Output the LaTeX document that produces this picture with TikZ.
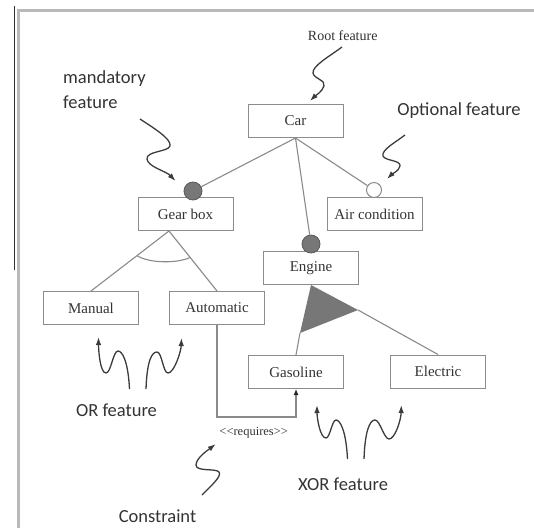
\documentclass[tikz,border=0pt]{standalone}
\usepackage{fontspec}
\setmainfont{Liberation Serif}
\newfontfamily\annfont{Carlito}
\usetikzlibrary{arrows.meta,calc}
\definecolor{linegray}{HTML}{8A8A8A}
\definecolor{boxgray}{HTML}{8C8C8C}
\definecolor{txt}{HTML}{333333}
\definecolor{sq}{HTML}{3C3C3C}
\definecolor{dotfill}{HTML}{777777}
\begin{document}
\begin{tikzpicture}[x=1pt,y=-1pt,
 feat/.style={draw=boxgray, line width=1pt, minimum width=95pt, minimum height=33pt, inner sep=0pt, text=txt, font=\fontsize{15}{17}\selectfont},
 conn/.style={draw=linegray, line width=1.1pt},
 mand/.style={circle, draw=dotfill!75!black, fill=dotfill, line width=0.8pt, minimum size=18pt, inner sep=0pt},
 opt/.style={circle, draw=linegray, fill=white, line width=1pt, minimum size=15pt, inner sep=0pt},
 squig/.style={draw=sq, line width=1.3pt, -{Latex[length=8pt,width=5.5pt]}},
 ann/.style={text=txt, font=\annfont\fontsize{18.5}{25}\selectfont, inner sep=0pt},
 serifann/.style={text=txt, font=\fontsize{14}{16}\selectfont, inner sep=0pt}
]
\useasboundingbox (0,0) rectangle (534,528);
% frame
\draw[gray!55, line width=3pt] (18.5,528) -- (18.5,10.5) -- (534,10.5);
\draw[black!80, line width=1.3pt] (14.7,6) -- (14.7,270);

% feature boxes
\node[feat] (car) at (295.5,121) {Car};
\node[feat] (gear) at (185.5,214) {Gear box};
\node[feat] (air) at (374.5,214) {Air condition};
\node[feat] (eng) at (311,268) {Engine};
\node[feat] (man) at (91,308) {Manual};
\node[feat] (auto) at (217,308) {Automatic};
\node[feat] (gas) at (296,372) {Gasoline};
\node[feat] (elec) at (438,371.5) {Electric};

% mandatory / optional markers
\node[mand] (gc) at (193,191) {};
\node[mand] (ec) at (311,244) {};
\node[opt] (ac) at (374,190) {};

\draw[conn] (car.south) -- (gc);
\draw[conn] (car.south) -- (ec);
\draw[conn] (car.south) -- (ac);

% OR group
\coordinate (orap) at (169,231);
\draw[conn] (orap) -- (man.north);
\draw[conn] (orap) -- (auto.north);
\coordinate (al) at ($(orap)!0.41!(man.north)$);
\coordinate (ar) at ($(orap)!0.44!(auto.north)$);
\draw[conn] (al) .. controls ($(al)+(12,8)$) and ($(ar)+(-12,6)$) .. (ar);

% XOR group
\coordinate (xl) at (300,333);
\coordinate (xr) at (358,310);
\fill[dotfill] (eng.south) -- (xl) -- (xr) -- cycle;
\draw[conn] (xl) -- (gas.north);
\draw[conn] (xr) -- (elec.north);

% requires constraint
\coordinate (rq) at (256,417);
\draw[conn, -{Latex[length=6pt,width=5pt,color=black!85]}] (auto.south) |- (rq) -| (gas.south);
\node[serifann, font=\fontsize{12.5}{15}\selectfont] (reqlab) at (253.7,432.7) {<{}<requires>{}>};

% annotation labels
\node[serifann] (rootlab) at (342.7,35.8) {Root feature};
\node[ann, align=left, anchor=west] (mandlab) at (63,89.5) {mandatory\\feature};
\node[ann] (optlab) at (459,110.7) {Optional feature};
\node[ann] (orlab) at (116.5,410.5) {OR feature};
\node[ann] (xorlab) at (343,484) {XOR feature};
\node[ann] (conlab) at (157.5,516.5) {Constraint};

% squiggly pointers
\draw[squig] (342,47) .. controls (330,56) and (312,66) .. (313,73)
  .. controls (314,79) and (326,80) .. (324,86)
  .. controls (322,92) and (315,96) .. (310,101);
\draw[squig] (140,119) .. controls (152,127) and (172,139) .. (170,146)
  .. controls (168,152) and (146,151) .. (147,159)
  .. controls (148,167) and (166,171) .. (175.5,181);
\draw[squig] (405,135) .. controls (396,142) and (381,150) .. (383,156)
  .. controls (385,161) and (401,160) .. (400,166)
  .. controls (399,171) and (392,174) .. (387,179);
\draw[squig] (129.5,389) .. controls (128,360) and (122,351) .. (118,351)
  .. controls (113,351) and (111,373) .. (106,373)
  .. controls (100,373) and (98.5,350) .. (98.5,337);
\draw[squig] (146,389) .. controls (147,360) and (152,352) .. (157,352)
  .. controls (162,352) and (163,373) .. (168,373)
  .. controls (174,373) and (181,352) .. (181.5,338);
\draw[squig] (347.5,459) .. controls (346,430) and (340,420) .. (336,420)
  .. controls (332,420) and (330,438) .. (326,438)
  .. controls (320,438) and (317,418) .. (317,405);
\draw[squig] (364,459) .. controls (365,430) and (370,420) .. (375,420)
  .. controls (380,420) and (384,439) .. (389,439)
  .. controls (395,439) and (401,420) .. (401.3,405);
\draw[squig] (202,495) .. controls (212,485) and (222,476) .. (219,472)
  .. controls (216,468) and (196,472) .. (196,465)
  .. controls (196,458) and (208,450) .. (215.7,444);
\end{tikzpicture}
\end{document}
